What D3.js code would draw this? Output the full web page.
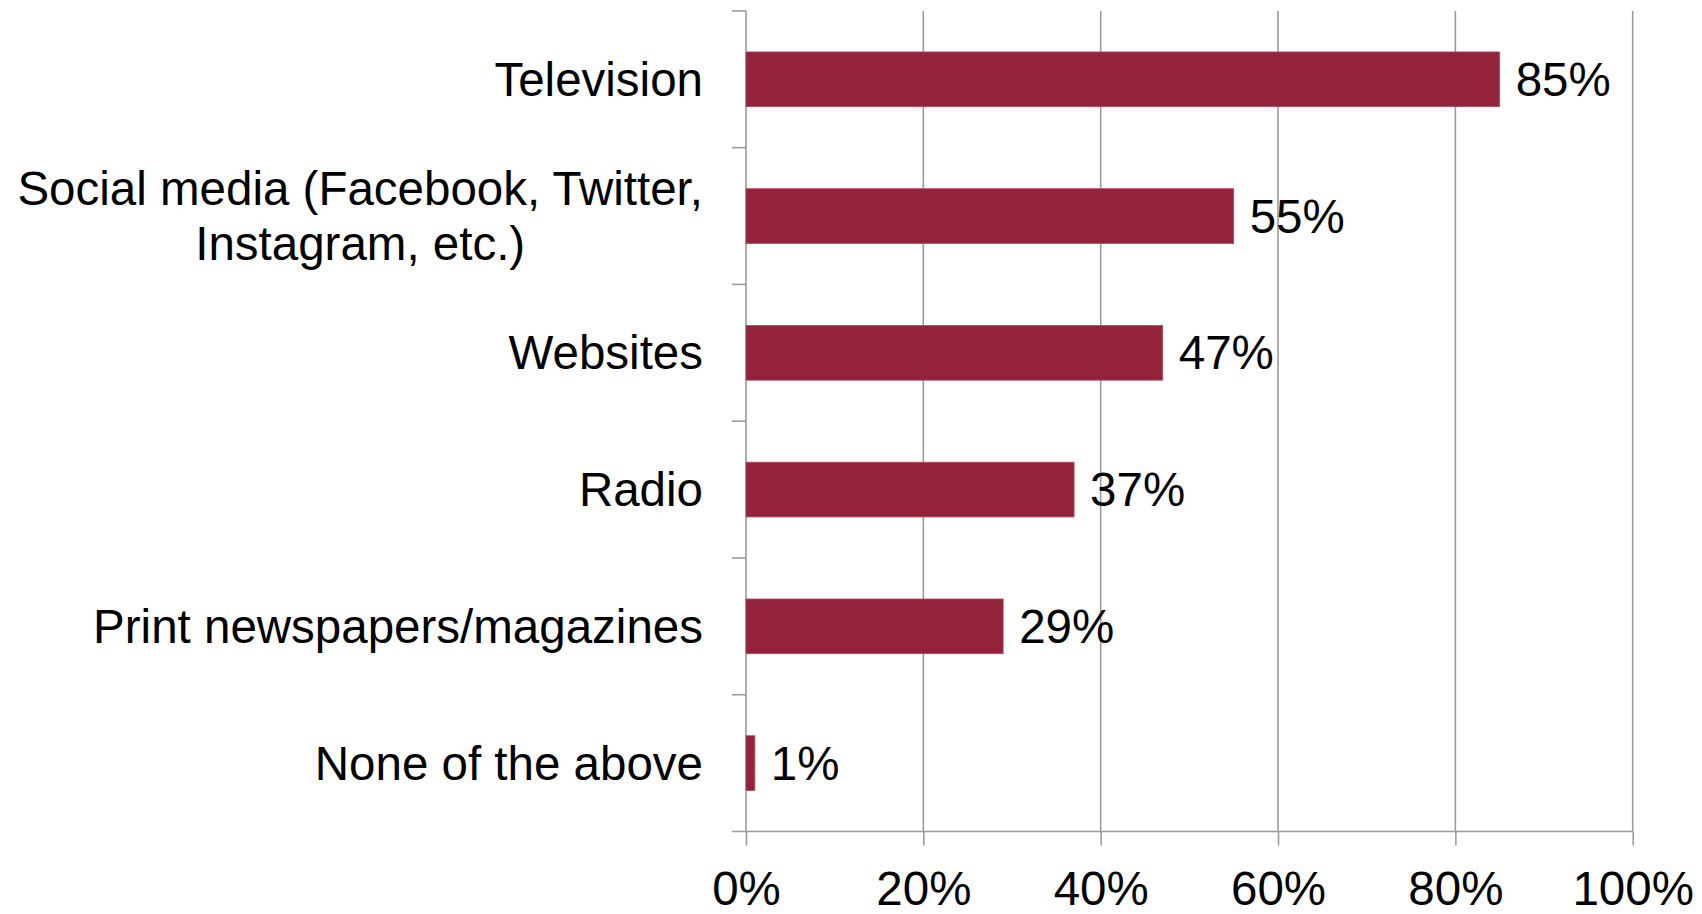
<!DOCTYPE html>
<html><head><meta charset="utf-8">
<script src="https://cdn.jsdelivr.net/npm/d3@7"></script>
<style>
html,body{margin:0;padding:0;background:#fff;}
svg{display:block;font-family:"Liberation Sans",Arial,sans-serif;}
</style></head>
<body>
<svg id="chart" width="1702" height="914"></svg>
<script>
const categories = ["Television", "Social media (Facebook, Twitter,|Instagram, etc.)", "Websites", "Radio", "Print newspapers/magazines", "None of the above"];
const values = [85, 55, 47, 37, 29, 1];
const xTickValues = [0, 20, 40, 60, 80, 100];
const valueLabels = ["85%", "55%", "47%", "37%", "29%", "1%"];

(function () {
const svg = d3.select("#chart");
const pLeft = 746, pRight = 1632.7, pTop = 10.9, pBottom = 831.5;
const fs = 47.5;
const gridColor = "#9c9c9c";
const barColor = "#93223b";

const x = d3.scaleLinear().domain([0, 100]).range([pLeft, pRight]);
const y = d3.scaleBand().domain(categories).range([pTop, pBottom]).paddingInner(0.6).paddingOuter(0.3);
const step = y.step();

// vertical gridlines
svg.append("g").selectAll("line").data(xTickValues.filter(d => d > 0)).join("line")
  .attr("x1", d => x(d)).attr("x2", d => x(d)).attr("y1", pTop).attr("y2", pBottom)
  .attr("stroke", gridColor).attr("stroke-width", 1.6);

// bottom axis
const xAxis = d3.axisBottom(x).tickValues(xTickValues).tickFormat(d => d + "%").tickSize(14).tickSizeOuter(0).tickPadding(26);
const gx = svg.append("g").attr("transform", `translate(0,${pBottom})`).call(xAxis);
gx.select(".domain").remove();
gx.selectAll(".tick line").attr("stroke", gridColor).attr("stroke-width", 1.6);
gx.selectAll(".tick text").attr("font-size", fs).attr("fill", "#000").attr("font-family", "Liberation Sans, Arial, sans-serif").attr("dy", "0.71em");
svg.append("line").attr("x1", pLeft - 14).attr("x2", pRight).attr("y1", pBottom).attr("y2", pBottom)
  .attr("stroke", gridColor).attr("stroke-width", 1.6);

// left axis line and boundary ticks
svg.append("line").attr("x1", pLeft).attr("x2", pLeft).attr("y1", pTop).attr("y2", pBottom)
  .attr("stroke", gridColor).attr("stroke-width", 1.6);
const bounds = d3.range(categories.length).map(i => pTop + i * step);
svg.append("g").selectAll("line").data(bounds).join("line")
  .attr("x1", pLeft - 14).attr("x2", pLeft).attr("y1", d => d).attr("y2", d => d)
  .attr("stroke", gridColor).attr("stroke-width", 1.6);

// bars
svg.append("g").selectAll("rect").data(categories).join("rect")
  .attr("x", x(0)).attr("y", d => y(d))
  .attr("width", (d, i) => x(values[i]) - x(0)).attr("height", y.bandwidth())
  .attr("fill", barColor).attr("stroke", "#b04a5f").attr("stroke-width", 0.8);

// value labels
svg.append("g").selectAll("text").data(categories).join("text")
  .attr("x", (d, i) => x(values[i]) + 16)
  .attr("y", d => y(d) + y.bandwidth() / 2)
  .attr("dy", "0.35em")
  .attr("font-size", fs).attr("fill", "#000")
  .text((d, i) => valueLabels[i]);

// category labels
const labelRight = 703;
const lg = svg.append("g");
categories.forEach(cat => {
  const lines = cat.split("|");
  const cy = y(cat) + y.bandwidth() / 2;
  const lh = 55;
  const t = lg.append("text").attr("font-size", fs).attr("fill", "#000");
  if (lines.length === 1) {
    t.attr("x", labelRight).attr("y", cy).attr("dy", "0.35em").attr("text-anchor", "end").text(lines[0]);
  } else {
    const spans = lines.map((ln, j) => t.append("tspan").attr("y", cy + (j - (lines.length - 1) / 2) * lh).attr("dy", "0.35em").text(ln));
    const widths = spans.map(s => s.node().getComputedTextLength());
    const w = d3.max(widths);
    t.attr("text-anchor", "middle");
    spans.forEach(s => s.attr("x", labelRight - w / 2));
  }
});
})();
</script>
</body></html>
